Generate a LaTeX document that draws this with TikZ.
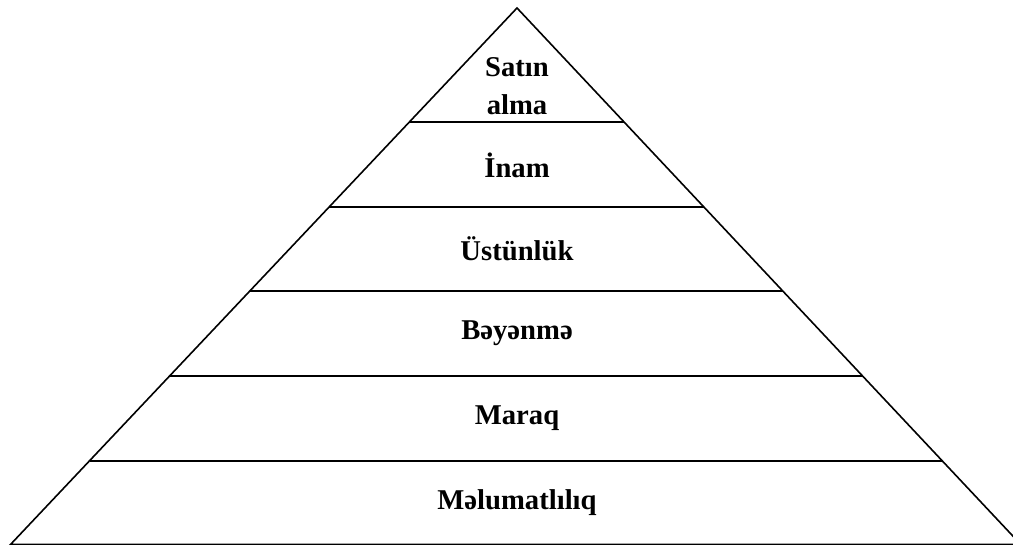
\documentclass[tikz,border=0pt]{standalone}
\usepackage{fontspec}
\setmainfont{Liberation Serif}
\begin{document}
\begin{tikzpicture}[x=0.75pt,y=-0.75pt,
  side/.style={line width=1.2pt,line join=miter},
  layer/.style={line width=1.7pt},
  lbl/.style={font=\bfseries\fontsize{21.5}{28.5}\selectfont,align=center,inner sep=0pt}]
\useasboundingbox (0,0) rectangle (1013,545);
\coordinate (apex) at (517,8);
\coordinate (bl) at (10.5,544.5);
\coordinate (br) at (1020.8,544.5);
\draw[side] (bl) -- (apex) -- (br) -- cycle;
\coordinate (l1) at (409.3,122); \coordinate (r1) at (624.2,122);
\coordinate (l2) at (329.0,207); \coordinate (r2) at (704.1,207);
\coordinate (l3) at (249.6,291); \coordinate (r3) at (783.0,291);
\coordinate (l4) at (169.2,376); \coordinate (r4) at (862.9,376);
\coordinate (l5) at (89.9,461);  \coordinate (r5) at (942.8,461);
\draw[layer] (l1) -- (r1);
\draw[layer] (l2) -- (r2);
\draw[layer] (l3) -- (r3);
\draw[layer] (l4) -- (r4);
\draw[layer] (l5) -- (r5);
\node[lbl] (t0) at (517,86) {Satın\\alma};
\node[lbl] (t1) at (517,165) {İnam};
\node[lbl] (t2) at (517,249) {Üstünlük};
\node[lbl] (t3) at (517,333.5) {Bəyənmə};
\node[lbl] (t4) at (517,418.5) {Maraq};
\node[lbl] (t5) at (517,502.5) {Məlumatlılıq};
\end{tikzpicture}
\end{document}
